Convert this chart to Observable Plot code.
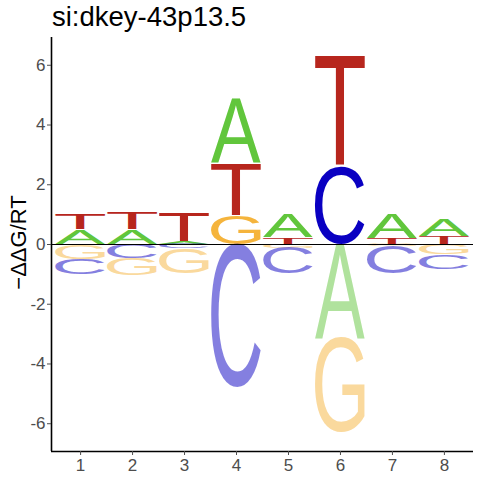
<!DOCTYPE html>
<html>
<head>
<meta charset="utf-8">
<script src="https://cdn.jsdelivr.net/npm/d3@7"></script>
<script src="https://cdn.jsdelivr.net/npm/@observablehq/plot@0.6"></script>
<style>
  body { margin: 0; background: #fff; }
  #wrap { position: relative; width: 480px; height: 480px; }
  #title { position: absolute; left: 52px; top: 3.4px; font-family: Arial, "Liberation Sans", sans-serif; font-size: 27.5px; line-height: 27.5px; color: #000; white-space: nowrap; }
  #wrap svg { position: absolute; left: 0; top: 0; }
</style>
</head>
<body>
<div id="wrap"></div>
<script>
// ---- data ----
const title = "si:dkey-43p13.5";
const yLabel = "\u2212\u0394\u0394G/RT";
const positions = [1, 2, 3, 4, 5, 6, 7, 8];
const letters = ["A", "C", "G", "T"];
const valA = [0.48, 0.48, 0.08, 2.12, 0.78, -3.14, 0.80, 0.55];
const valC = [-0.52, -0.47, -0.15, -4.80, -0.86, 2.60, -0.92, -0.50];
const valG = [-0.50, -0.58, -0.82, 0.96, -0.13, -3.16, -0.07, -0.35];
const valT = [0.52, 0.56, 0.94, 1.74, 0.22, 3.70, 0.20, 0.27];
const yTicks = [-6, -4, -2, 0, 2, 4, 6];
const letterColors = {A: "#61c63c", C: "#0a00c2", G: "#f5b43c", T: "#b7261d"};

// ---- build stacked table ----
const series = {A: valA, C: valC, G: valG, T: valT};
const rows = [];
positions.forEach((p, j) => {
  const items = letters.map(L => ({letter: L, v: series[L][j]}))
    .filter(d => d.v !== 0)
    .sort((a, b) => Math.abs(a.v) - Math.abs(b.v));
  let up = 0, down = 0;
  for (const it of items) {
    if (it.v > 0) { rows.push({pos: p, letter: it.letter, v: it.v, y1: up, y2: up + it.v}); up += it.v; }
    else { rows.push({pos: p, letter: it.letter, v: it.v, y1: down, y2: down + it.v}); down += it.v; }
  }
});

// ---- glyph ink metrics ----
const letterFont = "Liberation Sans";
const ctx = document.createElement("canvas").getContext("2d");
ctx.font = `100px "${letterFont}"`;
ctx.textAlign = "left";
ctx.textBaseline = "alphabetic";
const metrics = {};
for (const L of letters) {
  const m = ctx.measureText(L);
  metrics[L] = {l: m.actualBoundingBoxLeft, r: m.actualBoundingBoxRight, a: m.actualBoundingBoxAscent, d: m.actualBoundingBoxDescent};
}

function letterRender(index, scales, values) {
  const g = d3.create("svg:g").attr("text-anchor", "start");
  for (const i of index) {
    const row = rows[i];
    const xa = Math.min(values.x1[i], values.x2[i]), xb = Math.max(values.x1[i], values.x2[i]);
    const ya = Math.min(values.y1[i], values.y2[i]), yb = Math.max(values.y1[i], values.y2[i]);
    if (yb - ya < 0.2) continue;
    const m = metrics[row.letter];
    const sx = (xb - xa) / (m.l + m.r), sy = (yb - ya) / (m.a + m.d);
    g.append("text")
      .attr("transform", `translate(${xa},${ya}) scale(${sx},${sy}) translate(${m.l},${m.a})`)
      .attr("font-family", letterFont)
      .attr("font-size", 100)
      .attr("text-anchor", "start")
      .attr("fill", letterColors[row.letter])
      .attr("fill-opacity", row.v < 0 ? 0.5 : 1)
      .text(row.letter);
  }
  return g.node();
}

const xDomain = [0.44, 8.56];
const yDomain = [-6.93, 6.93];

const chart = Plot.plot({
  width: 480,
  height: 480,
  marginLeft: 51,
  marginRight: 7,
  marginTop: 37,
  marginBottom: 29,
  style: {fontFamily: "Arial, 'Liberation Sans', sans-serif", background: "#fff"},
  x: {domain: xDomain, axis: null},
  y: {domain: yDomain, axis: null},
  marks: [
    Plot.rect(rows, {
      x1: d => d.pos - 0.48, x2: d => d.pos + 0.48,
      y1: "y1", y2: "y2",
      render: letterRender
    }),
    Plot.ruleY([0], {stroke: "#000", strokeWidth: 1.1}),
    Plot.ruleX([xDomain[0]], {stroke: "#000", strokeWidth: 1.6}),
    Plot.ruleY([yDomain[0]], {stroke: "#000", strokeWidth: 1.6}),
    Plot.axisY({ticks: yTicks, tickSize: 4, tickPadding: 2, fontSize: 17, color: "#4d4d4d", label: null, tickFormat: d => String(d)}),
    Plot.axisX({ticks: positions, tickSize: 4, tickPadding: 3, fontSize: 17, color: "#4d4d4d", label: null}),
    Plot.text([yLabel], {frameAnchor: "left", textAnchor: "middle", rotate: -90, dx: -33, dy: -2, fontSize: 22, fill: "#000", text: d => d})
  ]
});
const wrap = document.getElementById("wrap");
wrap.appendChild(chart);
const t = document.createElement("div");
t.id = "title";
t.textContent = title;
wrap.appendChild(t);
</script>
</body>
</html>
